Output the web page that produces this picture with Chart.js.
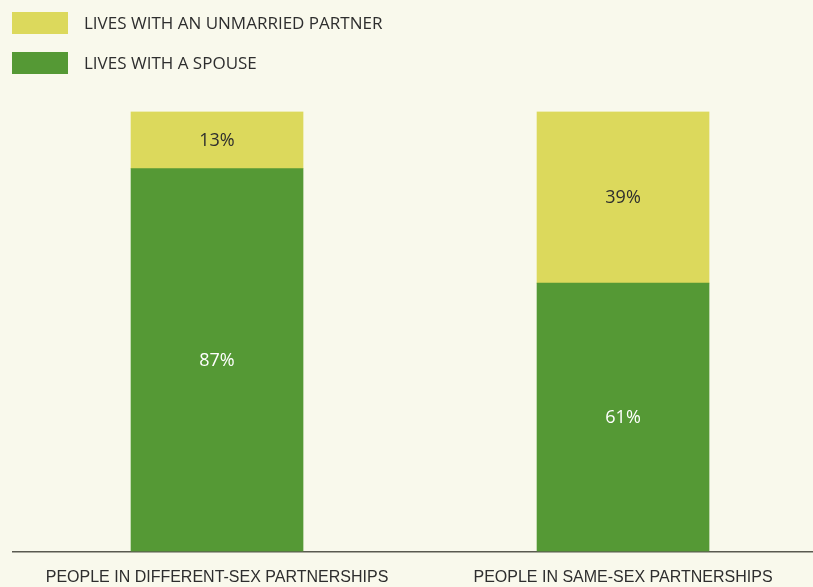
<!DOCTYPE html>
<html>
<head>
<meta charset="utf-8">
<script src="https://cdn.jsdelivr.net/npm/chart.js@4"></script>
<style>
  html, body { margin: 0; padding: 0; background: #f9f9ec; overflow: hidden; }
  #wrap { width: 813px; height: 587px; }
</style>
</head>
<body>
<div id="wrap"><canvas id="c" width="813" height="587"></canvas></div>
<script>
// Share of people in partnerships, by type of household arrangement
const categories = ['PEOPLE IN DIFFERENT-SEX PARTNERSHIPS', 'PEOPLE IN SAME-SEX PARTNERSHIPS'];
const seriesNames = ['LIVES WITH A SPOUSE', 'LIVES WITH AN UNMARRIED PARTNER'];
const spouse = [87, 61];
const unmarried = [13, 39];

const GREEN = '#559935';
const YELLOW = '#dcd95c';
const TEXT = '#2e2e2e';
const FONT = "'Open Sans', 'Liberation Sans', sans-serif";
const NARROW = "'Liberation Sans Narrow', 'Liberation Sans', sans-serif";

// Legend stacked vertically in the top-left corner, partner first
const legendPlugin = {
  id: 'stackedLegend',
  afterDraw(chart) {
    const ctx = chart.ctx;
    const items = [chart.data.datasets[1], chart.data.datasets[0]];
    ctx.save();
    ctx.font = '17px ' + FONT;
    ctx.textBaseline = 'middle';
    ctx.textAlign = 'left';
    items.forEach((ds, i) => {
      const y = 12 + i * 40;
      ctx.fillStyle = ds.backgroundColor;
      ctx.fillRect(12, y, 56, 22);
      ctx.fillStyle = TEXT;
      ctx.fillText(ds.label, 84, y + 12);
    });
    ctx.restore();
  }
};

// Percentage labels centred inside each bar segment
const valueLabels = {
  id: 'valueLabels',
  afterDatasetsDraw(chart) {
    const ctx = chart.ctx;
    ctx.save();
    ctx.font = '18px ' + FONT;
    ctx.textAlign = 'center';
    ctx.textBaseline = 'middle';
    chart.data.datasets.forEach((ds, di) => {
      const meta = chart.getDatasetMeta(di);
      meta.data.forEach((bar, i) => {
        const p = bar.getProps(['x', 'y', 'base'], true);
        ctx.fillStyle = di === 0 ? '#ffffff' : TEXT;
        ctx.fillText(ds.data[i].y + '%', p.x, (p.y + p.base) / 2 + 1);
      });
    });
    ctx.restore();
  }
};

new Chart(document.getElementById('c'), {
  type: 'bar',
  data: {
    datasets: [
      {
        label: seriesNames[0],
        data: spouse.map((v, i) => ({ x: i, y: v })),
        backgroundColor: GREEN
      },
      {
        label: seriesNames[1],
        data: unmarried.map((v, i) => ({ x: i, y: v })),
        backgroundColor: YELLOW
      }
    ]
  },
  options: {
    responsive: false,
    animation: false,
    events: [],
    layout: { padding: { left: 13, right: 0, top: 111.5, bottom: 0 } },
    barThickness: 172,
    plugins: { legend: { display: false }, tooltip: { enabled: false } },
    scales: {
      x: {
        type: 'linear',
        stacked: true,
        offset: false,
        min: -0.5025,
        max: 1.4679,
        afterBuildTicks(scale) { scale.ticks = [{ value: 0 }, { value: 1 }]; },
        afterFit(scale) { scale.height = 35.5; },
        grid: { display: false, drawTicks: false, offset: false },
        border: { display: true, color: '#5a5a50', width: 1.5 },
        ticks: {
          autoSkip: false,
          maxRotation: 0,
          padding: 16,
          color: TEXT,
          font: { family: NARROW, size: 16 },
          callback: (v) => categories[v]
        }
      },
      y: {
        stacked: true,
        display: false,
        min: 0,
        max: 100
      }
    }
  },
  plugins: [legendPlugin, valueLabels]
});
</script>
</body>
</html>
